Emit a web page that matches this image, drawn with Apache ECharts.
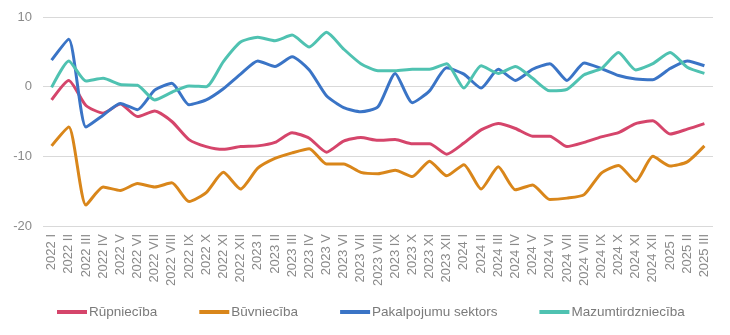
<!DOCTYPE html>
<html>
<head>
<meta charset="utf-8">
<script src="https://cdn.jsdelivr.net/npm/echarts@6/dist/echarts.min.js"></script>
<style>html,body{margin:0;padding:0;background:#fff}#c{width:730px;height:335px}</style>
</head>
<body>
<div id="c"></div>
<script>
const categories = [
  '2022 I','2022 II','2022 III','2022 IV','2022 V','2022 VI','2022 VII','2022 VIII','2022 IX','2022 X','2022 XI','2022 XII',
  '2023 I','2023 II','2023 III','2023 IV','2023 V','2023 VI','2023 VII','2023 VIII','2023 IX','2023 X','2023 XI','2023 XII',
  '2024 I','2024 II','2024 III','2024 IV','2024 V','2024 VI','2024 VII','2024 VIII','2024 IX','2024 X','2024 XI','2024 XII',
  '2025 I','2025 II','2025 III'
];
const rupnieciba = [-1.9,0.9,-2.7,-3.8,-2.5,-4.3,-3.5,-5.0,-7.6,-8.6,-9.0,-8.6,
  -8.5,-8.0,-6.6,-7.4,-9.4,-7.8,-7.3,-7.7,-7.6,-8.2,-8.2,-9.7,
  -8.1,-6.2,-5.3,-6.0,-7.1,-7.1,-8.6,-8.0,-7.2,-6.6,-5.3,-4.9,
  -6.8,-6.1,-5.3];
const buvnieciba = [-8.5,-5.8,-17.0,-14.4,-14.9,-13.9,-14.4,-13.8,-16.5,-15.2,-12.3,-14.7,
  -11.7,-10.3,-9.5,-8.9,-11.1,-11.1,-12.3,-12.5,-12.0,-12.9,-10.7,-12.8,
  -11.2,-14.7,-11.5,-14.8,-14.1,-16.2,-16.0,-15.5,-12.4,-11.3,-13.6,-10.0,
  -11.4,-10.8,-8.5];
const pakalpojumi = [3.8,6.8,-5.8,-4.1,-2.4,-3.3,-0.5,0.5,-2.6,-1.9,-0.3,1.8,
  3.7,2.9,4.3,2.4,-1.3,-3.0,-3.6,-2.9,1.9,-2.3,-0.6,2.7,
  1.8,-0.2,2.5,0.9,2.5,3.3,0.9,3.4,2.6,1.6,1.1,1.0,
  2.6,3.7,3.0];
const mazumtirdznieciba = [-0.1,3.7,0.8,1.2,0.3,0.2,-1.9,-0.8,0.1,0.0,3.6,6.4,
  7.1,6.6,7.4,5.7,7.8,5.4,3.3,2.3,2.3,2.5,2.5,3.3,
  -0.2,3.0,1.9,2.9,1.2,-0.6,-0.4,1.7,2.6,4.9,2.4,3.3,
  4.9,2.8,1.9];
const seriesNames = ['Rūpniecība','Būvniecība','Pakalpojumu sektors','Mazumtirdzniecība'];
const colors = ['#d5456b','#d9861a','#3a74c6','#4fc2b1'];
const yTicks = {min:-20, max:10, interval:10};

const chart = echarts.init(document.getElementById('c'), null, {renderer:'canvas'});
const dataSets = [rupnieciba, buvnieciba, pakalpojumi, mazumtirdznieciba];
chart.setOption({
  animation:false,
  color: colors,
  textStyle:{fontFamily:'Liberation Sans, Arial, sans-serif'},
  grid:{left:43, right:17, top:17, bottom:109, containLabel:false},
  legend:{
    left:52, top:300, itemWidth:30, itemHeight:4, itemGap:42,
    icon:'rect',
    textStyle:{color:'#7a7a7a', fontSize:13.5, padding:[0,0,0,-3]},
    data: seriesNames
  },
  xAxis:{
    type:'category', data:categories, boundaryGap:true,
    axisLine:{show:false}, axisTick:{show:false},
    axisLabel:{rotate:90, color:'#8a8a8a', fontSize:13, margin:8, interval:0}
  },
  yAxis:{
    type:'value', min:yTicks.min, max:yTicks.max, interval:yTicks.interval,
    axisLine:{show:false}, axisTick:{show:false},
    axisLabel:{color:'#8a8a8a', fontSize:13, margin:11},
    splitLine:{lineStyle:{color:'#d9d9d9', width:1}}
  },
  series: dataSets.map((d,i)=>({
    name: seriesNames[i], type:'line', data:d, smooth:0.2,
    symbol:'none', lineStyle:{width:3, color:colors[i]}, itemStyle:{color:colors[i]}
  }))
});
</script>
</body>
</html>
